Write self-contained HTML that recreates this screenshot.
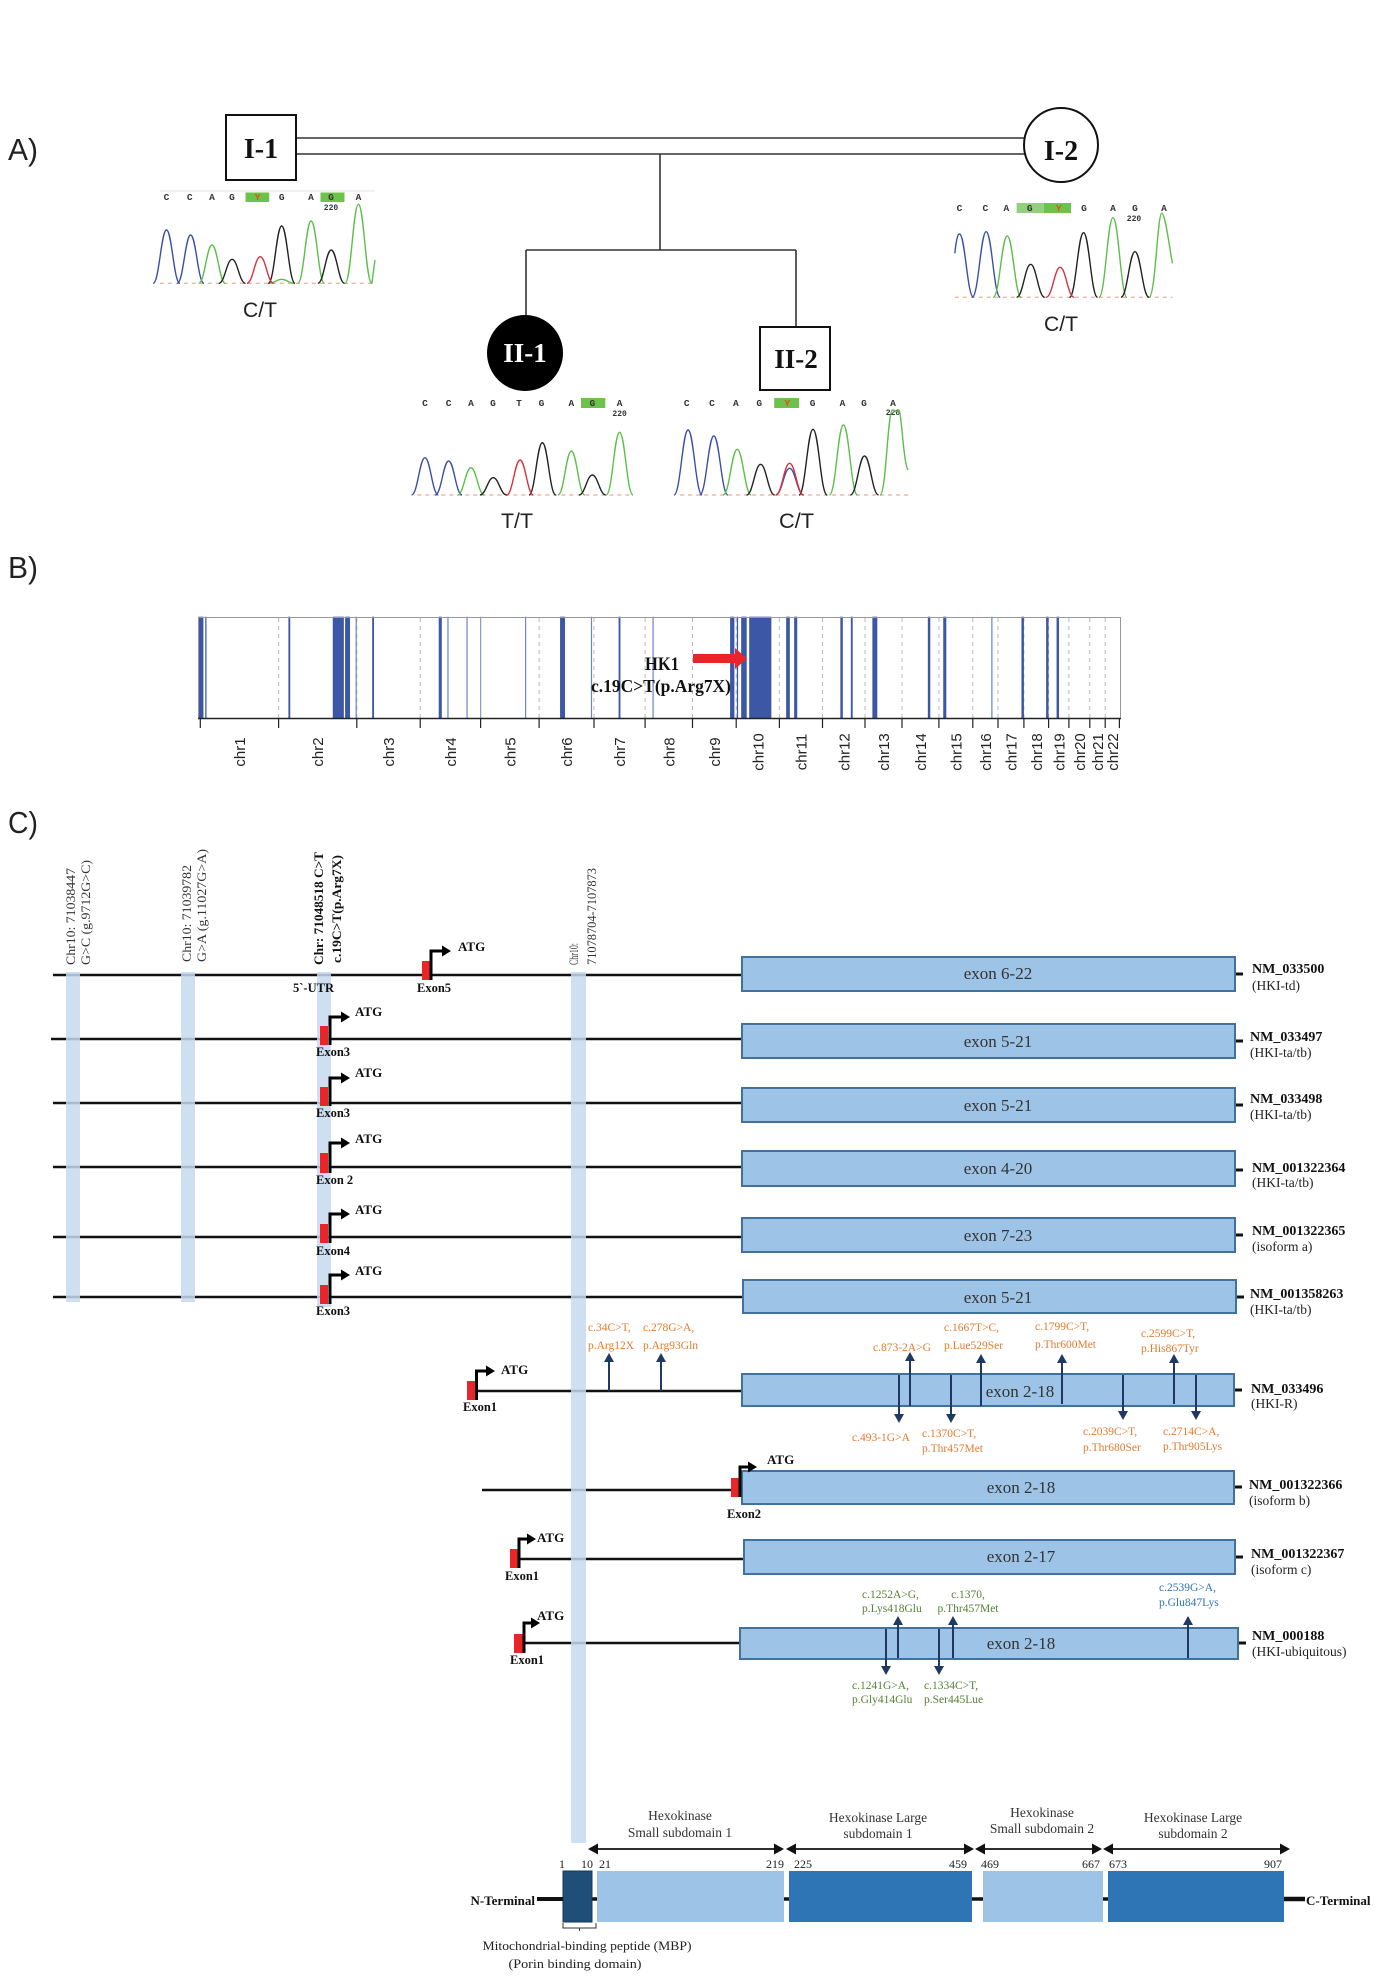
<!DOCTYPE html>
<html><head><meta charset="utf-8"><style>
html,body{margin:0;padding:0;background:#fff;}
svg{display:block;}
.s{font-family:"Liberation Serif","Times New Roman",serif;}
.a{font-family:"Liberation Sans",Arial,sans-serif;}
.m{font-family:"Liberation Mono","Courier New",monospace;font-weight:bold;}
</style></head><body>
<svg width="1394" height="1978" viewBox="0 0 1394 1978" xmlns="http://www.w3.org/2000/svg">
<rect width="1394" height="1978" fill="#fff"/>

<!-- ============ A) PEDIGREE ============ -->
<text class="a" x="8" y="160" font-size="31" fill="#222" textLength="30" lengthAdjust="spacingAndGlyphs">A)</text>

<g stroke="#333" stroke-width="1.6" fill="none">
  <line x1="296" y1="138" x2="1026" y2="138"/>
  <line x1="296" y1="154" x2="1026" y2="154"/>
  <line x1="660" y1="154" x2="660" y2="250"/>
  <line x1="526" y1="250" x2="796" y2="250"/>
  <line x1="526" y1="250" x2="526" y2="316"/>
  <line x1="796" y1="250" x2="796" y2="327"/>
</g>
<rect x="226" y="115" width="70" height="65" fill="#fff" stroke="#111" stroke-width="2"/>
<text class="s" x="261" y="158" font-size="28" font-weight="bold" text-anchor="middle" fill="#111">I-1</text>
<circle cx="1061" cy="145" r="37" fill="#fff" stroke="#111" stroke-width="2"/>
<text class="s" x="1061" y="160" font-size="28" font-weight="bold" text-anchor="middle" fill="#111">I-2</text>
<circle cx="525" cy="353" r="38" fill="#000"/>
<text class="s" x="525" y="362" font-size="27" font-weight="bold" text-anchor="middle" fill="#fff">II-1</text>
<rect x="760" y="327" width="70" height="63" fill="#fff" stroke="#111" stroke-width="2"/>
<text class="s" x="796" y="368" font-size="27" font-weight="bold" text-anchor="middle" fill="#111">II-2</text>

<!-- chromatogram letters -->
<g class="m" font-size="9.5" fill="#333" text-anchor="middle">
  <line x1="160" y1="191" x2="375" y2="191" stroke="#e4e4e4" stroke-width="1"/>
  <rect x="245.5" y="192.5" width="23.7" height="9.5" fill="#6cc24a" stroke="none"/>
  <rect x="320.5" y="192.5" width="24" height="9.5" fill="#6cc24a" stroke="none"/>
  <text x="166.5" y="200">C</text><text x="189.7" y="200">C</text><text x="212" y="200">A</text><text x="232" y="200">G</text><text x="257.6" y="200" fill="#e0501a">Y</text><text x="281.7" y="200">G</text><text x="311" y="200">A</text><text x="331" y="200">G</text><text x="358.5" y="200">A</text>
  <text x="331" y="210" font-size="8">220</text>

  <rect x="581" y="398" width="24.3" height="10" fill="#6cc24a" stroke="none"/>
  <text x="425" y="406">C</text><text x="448.6" y="406">C</text><text x="471" y="406">A</text><text x="493" y="406">G</text><text x="519" y="406">T</text><text x="541.5" y="406">G</text><text x="571.4" y="406">A</text><text x="592.4" y="406">G</text><text x="619.6" y="406">A</text>
  <text x="619.6" y="416" font-size="8">220</text>

  <rect x="774.2" y="398" width="24.8" height="10" fill="#6cc24a" stroke="none"/>
  <text x="686.7" y="406">C</text><text x="712" y="406">C</text><text x="735.8" y="406">A</text><text x="759.2" y="406">G</text><text x="787.3" y="406" fill="#e0501a">Y</text><text x="812.6" y="406">G</text><text x="842.5" y="406">A</text><text x="864" y="406">G</text><text x="893" y="406">A</text>
  <text x="893" y="415" font-size="8">220</text>

  <rect x="1016.6" y="203" width="27.2" height="10" fill="#93d07e" stroke="none"/>
  <rect x="1043.8" y="203" width="27.2" height="10" fill="#6cc24a" stroke="none"/>
  <text x="959.5" y="211">C</text><text x="985.3" y="211">C</text><text x="1006.3" y="211">A</text><text x="1029.7" y="211">G</text><text x="1058.7" y="211" fill="#e0501a">Y</text><text x="1084" y="211">G</text><text x="1113" y="211">A</text><text x="1135" y="211">G</text><text x="1164" y="211">A</text>
  <text x="1134" y="221" font-size="8">220</text>
</g>

<!-- traces I-1 and II-1 (zoom1 coords) -->
<g transform="translate(0,80) scale(0.4464,0.33333)" fill="none" stroke-width="1.4">
  <line x1="358" y1="610" x2="840" y2="610" stroke="#e89a80" vector-effect="non-scaling-stroke" stroke-dasharray="4 4" opacity="0.7"/>
  <path vector-effect="non-scaling-stroke" stroke="#3b4fa8" d="M343,610 C356.5,610 361,450 373,450 C385,450 389.5,610 403,610 M397,610 C410.5,610 415,465 427,465 C439,465 443.5,610 457,610"/>
  <path vector-effect="non-scaling-stroke" stroke="#5cbf4a" d="M445,610 C458.5,610 463,495 475,495 C487,495 491.5,610 505,610 M667,610 C680.5,610 685,423 697,423 C709,423 713.5,610 727,610 M773,610 C786.5,610 791,373 803,373 C815,373 819.5,610 833,610 L840,540 M600,610 C615,610 620,598 631,598 C642,598 648,610 660,610"/>
  <path vector-effect="non-scaling-stroke" stroke="#222" d="M490,610 C503.5,610 508,538 520,538 C532,538 536.5,610 550,610 M601,610 C614.5,610 619,438 631,438 C643,438 647.5,610 661,610 M712,610 C725.5,610 730,510 742,510 C754,510 758.5,610 772,610"/>
  <path vector-effect="non-scaling-stroke" stroke="#d8323c" d="M553,610 C566.5,610 571,530 583,530 C595,530 599.5,610 613,610"/>

  <line x1="935" y1="1245" x2="1415" y2="1245" stroke="#e89a80" vector-effect="non-scaling-stroke" stroke-dasharray="4 4" opacity="0.7"/>
  <path vector-effect="non-scaling-stroke" stroke="#3b4fa8" d="M922,1245 C935.5,1245 940,1133 952,1133 C964,1133 968.5,1245 982,1245 M975,1245 C988.5,1245 993,1143 1005,1143 C1017,1143 1021.5,1245 1035,1245"/>
  <path vector-effect="non-scaling-stroke" stroke="#5cbf4a" d="M1025,1245 C1038.5,1245 1043,1163 1055,1163 C1067,1163 1071.5,1245 1085,1245 M1250,1245 C1263.5,1245 1268,1113 1280,1113 C1292,1113 1296.5,1245 1310,1245 M1358,1245 C1371.5,1245 1376,1057 1388,1057 C1400,1057 1404.5,1245 1418,1245"/>
  <path vector-effect="non-scaling-stroke" stroke="#222" d="M1075,1245 C1088.5,1245 1093,1193 1105,1193 C1117,1193 1121.5,1245 1135,1245 M1185,1245 C1198.5,1245 1203,1088 1215,1088 C1227,1088 1231.5,1245 1245,1245 M1297,1245 C1310.5,1245 1315,1185 1327,1185 C1339,1185 1343.5,1245 1357,1245"/>
  <path vector-effect="non-scaling-stroke" stroke="#d8323c" d="M1135,1245 C1148.5,1245 1153,1140 1165,1140 C1177,1140 1181.5,1245 1195,1245"/>
</g>

<!-- traces II-2 and I-2 (zoom2 coords) -->
<g transform="translate(660,80) scale(0.468,0.33333)" fill="none" stroke-width="1.4">
  <line x1="43" y1="1245" x2="530" y2="1245" stroke="#e89a80" vector-effect="non-scaling-stroke" stroke-dasharray="4 4" opacity="0.7"/>
  <path vector-effect="non-scaling-stroke" stroke="#3b4fa8" d="M30,1245 C43.5,1245 48,1050 60,1050 C72,1050 76.5,1245 90,1245 M85,1245 C98.5,1245 103,1068 115,1068 C127,1068 131.5,1245 145,1245 M247,1245 C260.5,1245 265,1165 277,1165 C289,1165 293.5,1245 307,1245"/>
  <path vector-effect="non-scaling-stroke" stroke="#5cbf4a" d="M135,1245 C148.5,1245 153,1108 165,1108 C177,1108 181.5,1245 195,1245 M362,1245 C375.5,1245 380,1035 392,1035 C404,1035 408.5,1245 422,1245 M470,1245 C483.5,1245 486,990 497,990 C503,990 506,1000 510,990 C516,990 520,1150 530,1170"/>
  <path vector-effect="non-scaling-stroke" stroke="#222" d="M185,1245 C198.5,1245 203,1153 215,1153 C227,1153 231.5,1245 245,1245 M297,1245 C310.5,1245 315,1048 327,1048 C339,1048 343.5,1245 357,1245 M407,1245 C420.5,1245 425,1128 437,1128 C449,1128 453.5,1245 467,1245"/>
  <path vector-effect="non-scaling-stroke" stroke="#d8323c" d="M247,1245 C260.5,1245 265,1150 277,1150 C289,1150 293.5,1245 307,1245"/>

  <line x1="630" y1="652" x2="1095" y2="652" stroke="#e89a80" vector-effect="non-scaling-stroke" stroke-dasharray="4 4" opacity="0.7"/>
  <path vector-effect="non-scaling-stroke" stroke="#3b4fa8" d="M630,520 C633,480 636,462 640,462 C652,462 656.5,652 670,652 M667,652 C680.5,652 685,455 697,455 C709,455 713.5,652 727,652"/>
  <path vector-effect="non-scaling-stroke" stroke="#5cbf4a" d="M712,652 C725.5,652 730,468 742,468 C754,468 758.5,652 772,652 M938,652 C951.5,652 956,413 968,413 C980,413 984.5,652 998,652 M1045,652 C1058.5,652 1063,400 1072,400 C1080,400 1088,500 1095,550"/>
  <path vector-effect="non-scaling-stroke" stroke="#222" d="M762,652 C775.5,652 780,553 792,553 C804,553 808.5,652 822,652 M875,652 C888.5,652 893,458 905,458 C917,458 921.5,652 935,652 M985,652 C998.5,652 1003,515 1015,515 C1027,515 1031.5,652 1045,652"/>
  <path vector-effect="non-scaling-stroke" stroke="#d8323c" d="M825,652 C838.5,652 843,562 855,562 C867,562 871.5,652 885,652"/>
</g>

<g class="a" font-size="21" fill="#222">
  <text x="243" y="317" textLength="34" lengthAdjust="spacingAndGlyphs">C/T</text>
  <text x="501" y="528" textLength="32" lengthAdjust="spacingAndGlyphs">T/T</text>
  <text x="779" y="528" textLength="35" lengthAdjust="spacingAndGlyphs">C/T</text>
  <text x="1044" y="331" textLength="34" lengthAdjust="spacingAndGlyphs">C/T</text>
</g>

<!-- ============ B) ============ -->
<text class="a" x="8" y="578" font-size="31" fill="#222" textLength="30" lengthAdjust="spacingAndGlyphs">B)</text>
<g stroke="#b8b8b8" stroke-width="1" stroke-dasharray="4 4">
  <line x1="278.6" y1="618" x2="278.6" y2="718"/><line x1="356.8" y1="618" x2="356.8" y2="718"/>
  <line x1="420.2" y1="618" x2="420.2" y2="718"/><line x1="480.6" y1="618" x2="480.6" y2="718"/>
  <line x1="539.1" y1="618" x2="539.1" y2="718"/><line x1="594" y1="618" x2="594" y2="718"/>
  <line x1="645.1" y1="618" x2="645.1" y2="718"/><line x1="692.5" y1="618" x2="692.5" y2="718"/>
  <line x1="736.2" y1="618" x2="736.2" y2="718"/><line x1="779.4" y1="618" x2="779.4" y2="718"/>
  <line x1="822.5" y1="618" x2="822.5" y2="718"/><line x1="865" y1="618" x2="865" y2="718"/>
  <line x1="902" y1="618" x2="902" y2="718"/><line x1="938.9" y1="618" x2="938.9" y2="718"/>
  <line x1="972.8" y1="618" x2="972.8" y2="718"/><line x1="998" y1="618" x2="998" y2="718"/>
  <line x1="1023.9" y1="618" x2="1023.9" y2="718"/><line x1="1048.6" y1="618" x2="1048.6" y2="718"/>
  <line x1="1068.9" y1="618" x2="1068.9" y2="718"/><line x1="1089.8" y1="618" x2="1089.8" y2="718"/>
  <line x1="1105.2" y1="618" x2="1105.2" y2="718"/>
</g>
<g transform="translate(180,600) scale(0.616,0.33333)" fill="#3b57a6">
  <rect x="30" y="50" width="8" height="305"/><rect x="41" y="50" width="2" height="305"/>
  <rect x="176" y="50" width="3" height="305"/><rect x="248" y="50" width="18" height="305"/>
  <rect x="268" y="50" width="8" height="305"/><rect x="285" y="50" width="2" height="305" fill="#6f86c4"/>
  <rect x="312" y="50" width="3" height="305"/><rect x="420" y="50" width="5" height="305"/>
  <rect x="434" y="50" width="2" height="305" fill="#6f86c4"/><rect x="465" y="50" width="2" height="305" fill="#6f86c4"/>
  <rect x="487" y="50" width="2" height="305" fill="#8b9ccf"/><rect x="560" y="50" width="2" height="305" fill="#6f86c4"/>
  <rect x="617" y="50" width="8" height="305"/><rect x="667" y="50" width="2" height="305" fill="#6f86c4"/>
  <rect x="712" y="50" width="3" height="305"/><rect x="767" y="50" width="2" height="305" fill="#6f86c4"/>
  <rect x="893" y="50" width="7" height="305"/><rect x="904" y="50" width="2" height="305"/>
  <rect x="911" y="50" width="9" height="305"/><rect x="924" y="50" width="36" height="305"/>
  <rect x="984" y="50" width="6" height="305"/><rect x="997" y="50" width="5" height="305"/>
  <rect x="1072" y="50" width="4" height="305"/><rect x="1089" y="50" width="3" height="305"/>
  <rect x="1124" y="50" width="8" height="305"/><rect x="1214" y="50" width="4" height="305"/>
  <rect x="1239" y="50" width="5" height="305"/><rect x="1317" y="50" width="2" height="305" fill="#6f86c4"/>
  <rect x="1366" y="50" width="4" height="305"/><rect x="1406" y="50" width="4" height="305"/>
  <rect x="1423" y="50" width="4" height="305"/>
</g>
<rect x="198.5" y="617.5" width="922" height="101" fill="none" stroke="#999" stroke-width="1"/>
<line x1="198" y1="718.5" x2="1121" y2="718.5" stroke="#222" stroke-width="1.6"/>
<g stroke="#222" stroke-width="1.2">
  <line x1="200.3" y1="718" x2="200.3" y2="728"/><line x1="278.6" y1="718" x2="278.6" y2="728"/>
  <line x1="356.8" y1="718" x2="356.8" y2="728"/><line x1="420.2" y1="718" x2="420.2" y2="728"/>
  <line x1="480.6" y1="718" x2="480.6" y2="728"/><line x1="539.1" y1="718" x2="539.1" y2="728"/>
  <line x1="594" y1="718" x2="594" y2="728"/><line x1="645.1" y1="718" x2="645.1" y2="728"/>
  <line x1="692.5" y1="718" x2="692.5" y2="728"/><line x1="736.2" y1="718" x2="736.2" y2="728"/>
  <line x1="779.4" y1="718" x2="779.4" y2="728"/><line x1="822.5" y1="718" x2="822.5" y2="728"/>
  <line x1="865" y1="718" x2="865" y2="728"/><line x1="902" y1="718" x2="902" y2="728"/>
  <line x1="938.9" y1="718" x2="938.9" y2="728"/><line x1="972.8" y1="718" x2="972.8" y2="728"/>
  <line x1="998" y1="718" x2="998" y2="728"/><line x1="1023.9" y1="718" x2="1023.9" y2="728"/>
  <line x1="1048.6" y1="718" x2="1048.6" y2="728"/><line x1="1068.9" y1="718" x2="1068.9" y2="728"/>
  <line x1="1089.8" y1="718" x2="1089.8" y2="728"/><line x1="1105.2" y1="718" x2="1105.2" y2="728"/>
  <line x1="1119.4" y1="718" x2="1119.4" y2="728"/>
</g>
<g class="a" font-size="15" fill="#222" text-anchor="middle">
  <text transform="translate(245,752) rotate(-90)">chr1</text>
  <text transform="translate(323.2,752) rotate(-90)">chr2</text>
  <text transform="translate(394,752) rotate(-90)">chr3</text>
  <text transform="translate(455.9,752) rotate(-90)">chr4</text>
  <text transform="translate(515.4,752) rotate(-90)">chr5</text>
  <text transform="translate(572.1,752) rotate(-90)">chr6</text>
  <text transform="translate(625.1,752) rotate(-90)">chr7</text>
  <text transform="translate(674.3,752) rotate(-90)">chr8</text>
  <text transform="translate(719.9,752) rotate(-90)">chr9</text>
  <text transform="translate(763.3,752) rotate(-90)">chr10</text>
  <text transform="translate(806.5,752) rotate(-90)">chr11</text>
  <text transform="translate(849.3,752) rotate(-90)">chr12</text>
  <text transform="translate(889,752) rotate(-90)">chr13</text>
  <text transform="translate(926,752) rotate(-90)">chr14</text>
  <text transform="translate(961.4,752) rotate(-90)">chr15</text>
  <text transform="translate(990.9,752) rotate(-90)">chr16</text>
  <text transform="translate(1016.5,752) rotate(-90)">chr17</text>
  <text transform="translate(1041.8,752) rotate(-90)">chr18</text>
  <text transform="translate(1064.3,752) rotate(-90)">chr19</text>
  <text transform="translate(1084.9,752) rotate(-90)">chr20</text>
  <text transform="translate(1103,752) rotate(-90)">chr21</text>
  <text transform="translate(1117.8,752) rotate(-90)">chr22</text>
</g>
<text class="s" x="645" y="670" font-size="19" font-weight="bold" fill="#111" textLength="34" lengthAdjust="spacingAndGlyphs">HK1</text>
<text class="s" x="591" y="692" font-size="18" font-weight="bold" fill="#111" textLength="140" lengthAdjust="spacingAndGlyphs">c.19C&gt;T(p.Arg7X)</text>
<polygon points="693,654 735,654 735,648 747,658.5 735,669 735,663 693,663" fill="#e8262a"/>

<!-- ============ C) ============ -->
<text class="a" x="8" y="833" font-size="31" fill="#222" textLength="30" lengthAdjust="spacingAndGlyphs">C)</text>

<!-- rotated labels -->
<g class="s" font-size="13" fill="#333">
  <text transform="translate(75,965) rotate(-90)" textLength="97" lengthAdjust="spacingAndGlyphs">Chr10: 71038447</text>
  <text transform="translate(90,965) rotate(-90)" textLength="105" lengthAdjust="spacingAndGlyphs">G&gt;C (g.9712G&gt;C)</text>
  <text transform="translate(191,962) rotate(-90)" textLength="97" lengthAdjust="spacingAndGlyphs">Chr10: 71039782</text>
  <text transform="translate(206,962) rotate(-90)" textLength="113" lengthAdjust="spacingAndGlyphs">G&gt;A (g.11027G&gt;A)</text>
  <text transform="translate(323,965) rotate(-90)" font-weight="bold" fill="#111" textLength="113" lengthAdjust="spacingAndGlyphs">Chr: 71048518 C&gt;T</text>
  <text transform="translate(341,963) rotate(-90)" font-weight="bold" fill="#111" textLength="108" lengthAdjust="spacingAndGlyphs">c.19C&gt;T(p.Arg7X)</text>
  <text transform="translate(578,965) rotate(-90)" textLength="22" lengthAdjust="spacingAndGlyphs">Chr10:</text>
  <text transform="translate(596,965) rotate(-90)" textLength="97" lengthAdjust="spacingAndGlyphs">71078704-7107873</text>
</g>

<!-- transcript lines -->
<g stroke="#111" stroke-width="2.6">
  <line x1="53" y1="975" x2="742" y2="975"/>
  <line x1="51" y1="1039" x2="742" y2="1039"/>
  <line x1="53" y1="1103" x2="742" y2="1103"/>
  <line x1="53" y1="1167" x2="742" y2="1167"/>
  <line x1="53" y1="1237" x2="742" y2="1237"/>
  <line x1="53" y1="1297" x2="743" y2="1297"/>
  <line x1="476" y1="1391" x2="742" y2="1391"/>
  <line x1="482" y1="1490" x2="732" y2="1490"/>
  <line x1="518" y1="1559" x2="744" y2="1559"/>
  <line x1="523" y1="1643" x2="740" y2="1643"/>
</g>

<!-- light blue bands -->
<g fill="#c6d9f0" opacity="0.85">
  <rect x="66" y="972" width="14" height="330"/>
  <rect x="181" y="972" width="14" height="330"/>
  <rect x="317" y="972" width="14" height="335"/>
  <rect x="571" y="972" width="15" height="871"/>
</g>

<!-- exon boxes -->
<g fill="#9dc3e6" stroke="#41719c" stroke-width="2">
  <rect x="742" y="957" width="493" height="34"/>
  <rect x="742" y="1024" width="493" height="34"/>
  <rect x="742" y="1088" width="493" height="34"/>
  <rect x="742" y="1151" width="493" height="35"/>
  <rect x="742" y="1218" width="493" height="34"/>
  <rect x="743" y="1280" width="493" height="33"/>
  <rect x="742" y="1374" width="492" height="32"/>
  <rect x="742" y="1471" width="492" height="33"/>
  <rect x="744" y="1540" width="491" height="34"/>
  <rect x="740" y="1628" width="498" height="31"/>
</g>
<g stroke="#111" stroke-width="3">
  <line x1="1236" y1="974" x2="1243" y2="974"/>
  <line x1="1236" y1="1041" x2="1243" y2="1041"/>
  <line x1="1236" y1="1105" x2="1243" y2="1105"/>
  <line x1="1236" y1="1170" x2="1243" y2="1170"/>
  <line x1="1236" y1="1235" x2="1243" y2="1235"/>
  <line x1="1237" y1="1297" x2="1244" y2="1297"/>
  <line x1="1235" y1="1390" x2="1242" y2="1390"/>
  <line x1="1235" y1="1487" x2="1242" y2="1487"/>
  <line x1="1236" y1="1557" x2="1243" y2="1557"/>
  <line x1="1239" y1="1643" x2="1246" y2="1643"/>
</g>
<g class="s" font-size="17" fill="#333" text-anchor="middle">
  <text x="998" y="979">exon 6-22</text>
  <text x="998" y="1047">exon 5-21</text>
  <text x="998" y="1111">exon 5-21</text>
  <text x="998" y="1174">exon 4-20</text>
  <text x="998" y="1241">exon 7-23</text>
  <text x="998" y="1303">exon 5-21</text>
  <text x="1020" y="1397">exon 2-18</text>
  <text x="1021" y="1493">exon 2-18</text>
  <text x="1021" y="1562">exon 2-17</text>
  <text x="1021" y="1649">exon 2-18</text>
</g>

<!-- NM labels -->
<g class="s" font-size="14" fill="#111">
  <g font-weight="bold">
    <text x="1252" y="973">NM_033500</text>
    <text x="1250" y="1041">NM_033497</text>
    <text x="1250" y="1103">NM_033498</text>
    <text x="1252" y="1172">NM_001322364</text>
    <text x="1252" y="1235">NM_001322365</text>
    <text x="1250" y="1298">NM_001358263</text>
    <text x="1251" y="1393">NM_033496</text>
    <text x="1249" y="1489">NM_001322366</text>
    <text x="1251" y="1558">NM_001322367</text>
    <text x="1252" y="1640">NM_000188</text>
  </g>
  <g font-size="13.5" fill="#222">
    <text x="1252" y="990">(HKI-td)</text>
    <text x="1250" y="1057">(HKI-ta/tb)</text>
    <text x="1250" y="1119">(HKI-ta/tb)</text>
    <text x="1252" y="1187">(HKI-ta/tb)</text>
    <text x="1252" y="1251">(isoform a)</text>
    <text x="1250" y="1314">(HKI-ta/tb)</text>
    <text x="1251" y="1408">(HKI-R)</text>
    <text x="1249" y="1505">(isoform b)</text>
    <text x="1251" y="1574">(isoform c)</text>
    <text x="1252" y="1656">(HKI-ubiquitous)</text>
  </g>
</g>

<!-- red exon blocks -->
<g fill="#e8262a">
  <rect x="422" y="961" width="8" height="19"/>
  <rect x="320" y="1026" width="8" height="19"/>
  <rect x="320" y="1087" width="8" height="19"/>
  <rect x="320" y="1153" width="8" height="20"/>
  <rect x="320" y="1224" width="8" height="19"/>
  <rect x="320" y="1285" width="8" height="19"/>
  <rect x="467" y="1381" width="8" height="19"/>
  <rect x="731" y="1478" width="8" height="19"/>
  <rect x="510" y="1549" width="8" height="19"/>
  <rect x="514" y="1634" width="9" height="19"/>
</g>
<!-- ATG arrows -->
<g stroke="#000" stroke-width="3" fill="none">
  <path d="M431,980 V951 H443"/>
  <path d="M330,1045 V1017 H342"/>
  <path d="M330,1106 V1078 H342"/>
  <path d="M330,1173 V1143 H342"/>
  <path d="M330,1243 V1214 H342"/>
  <path d="M330,1304 V1275 H342"/>
  <path d="M476.5,1400 V1371 H487"/>
  <path d="M740,1497 V1467 H749"/>
  <path d="M519,1568 V1539 H528"/>
  <path d="M524,1653 V1623 H532"/>
</g>
<g fill="#000">
  <polygon points="442,945.5 451,951 442,956.5"/>
  <polygon points="341,1011.5 350,1017 341,1022.5"/>
  <polygon points="341,1072.5 350,1078 341,1083.5"/>
  <polygon points="341,1137.5 350,1143 341,1148.5"/>
  <polygon points="341,1208.5 350,1214 341,1219.5"/>
  <polygon points="341,1269.5 350,1275 341,1280.5"/>
  <polygon points="486,1365.5 495,1371 486,1376.5"/>
  <polygon points="748,1461.5 757,1467 748,1472.5"/>
  <polygon points="527,1533.5 536,1539 527,1544.5"/>
  <polygon points="531,1617.5 540,1623 531,1628.5"/>
</g>
<g class="s" font-size="13" font-weight="bold" fill="#111">
  <text x="458" y="951">ATG</text>
  <text x="355" y="1016">ATG</text>
  <text x="355" y="1077">ATG</text>
  <text x="355" y="1143">ATG</text>
  <text x="355" y="1214">ATG</text>
  <text x="355" y="1275">ATG</text>
  <text x="501" y="1374">ATG</text>
  <text x="767" y="1464">ATG</text>
  <text x="537" y="1542">ATG</text>
  <text x="537" y="1620">ATG</text>
  <text x="417" y="992" font-size="12.5">Exon5</text>
  <text x="293" y="992" font-size="12.5">5`-UTR</text>
  <text x="316" y="1056" font-size="12.5">Exon3</text>
  <text x="316" y="1117" font-size="12.5">Exon3</text>
  <text x="316" y="1184" font-size="12.5">Exon 2</text>
  <text x="316" y="1255" font-size="12.5">Exon4</text>
  <text x="316" y="1315" font-size="12.5">Exon3</text>
  <text x="463" y="1411" font-size="12.5">Exon1</text>
  <text x="727" y="1518" font-size="12.5">Exon2</text>
  <text x="505" y="1580" font-size="12.5">Exon1</text>
  <text x="510" y="1664" font-size="12.5">Exon1</text>
</g>

<!-- mutation arrows -->
<g stroke="#1f3864" stroke-width="2">
  <line x1="609" y1="1391" x2="609" y2="1360"/>
  <line x1="661" y1="1391" x2="661" y2="1360"/>
  <line x1="910" y1="1406" x2="910" y2="1360"/>
  <line x1="981" y1="1406" x2="981" y2="1362"/>
  <line x1="1062" y1="1404" x2="1062" y2="1362"/>
  <line x1="1174" y1="1404" x2="1174" y2="1362"/>
  <line x1="899" y1="1375" x2="899" y2="1416"/>
  <line x1="951" y1="1375" x2="951" y2="1416"/>
  <line x1="1123" y1="1375" x2="1123" y2="1413"/>
  <line x1="1196" y1="1375" x2="1196" y2="1413"/>
  <line x1="898" y1="1658" x2="898" y2="1623"/>
  <line x1="953" y1="1658" x2="953" y2="1623"/>
  <line x1="1188" y1="1658" x2="1188" y2="1623"/>
  <line x1="886" y1="1629" x2="886" y2="1668"/>
  <line x1="939" y1="1629" x2="939" y2="1668"/>
</g>
<g fill="#1f3864">
  <polygon points="609,1353 604,1362 614,1362"/>
  <polygon points="661,1353 656,1362 666,1362"/>
  <polygon points="910,1352 905,1361 915,1361"/>
  <polygon points="981,1354 976,1363 986,1363"/>
  <polygon points="1062,1354 1057,1363 1067,1363"/>
  <polygon points="1174,1354 1169,1363 1179,1363"/>
  <polygon points="899,1423 894,1414 904,1414"/>
  <polygon points="951,1423 946,1414 956,1414"/>
  <polygon points="1123,1420 1118,1411 1128,1411"/>
  <polygon points="1196,1420 1191,1411 1201,1411"/>
  <polygon points="898,1616 893,1625 903,1625"/>
  <polygon points="953,1616 948,1625 958,1625"/>
  <polygon points="1188,1616 1183,1625 1193,1625"/>
  <polygon points="886,1675 881,1666 891,1666"/>
  <polygon points="939,1675 934,1666 944,1666"/>
</g>

<!-- orange mutation labels -->
<g class="s" font-size="11.5" fill="#e47a2e">
  <text x="588" y="1331">c.34C&gt;T,</text><text x="588" y="1349">p.Arg12X</text>
  <text x="643" y="1331">c.278G&gt;A,</text><text x="643" y="1349">p.Arg93Gln</text>
  <text x="873" y="1351">c.873-2A&gt;G</text>
  <text x="944" y="1331">c.1667T&gt;C,</text><text x="944" y="1349">p.Lue529Ser</text>
  <text x="1035" y="1330">c.1799C&gt;T,</text><text x="1035" y="1348">p.Thr600Met</text>
  <text x="1141" y="1337">c.2599C&gt;T,</text><text x="1141" y="1352">p.His867Tyr</text>
  <text x="852" y="1441">c.493-1G&gt;A</text>
  <text x="922" y="1437">c.1370C&gt;T,</text><text x="922" y="1452">p.Thr457Met</text>
  <text x="1083" y="1435">c.2039C&gt;T,</text><text x="1083" y="1451">p.Thr680Ser</text>
  <text x="1163" y="1435">c.2714C&gt;A,</text><text x="1163" y="1450">p.Thr905Lys</text>
</g>
<g class="s" font-size="11.5" fill="#548235">
  <text x="862" y="1598">c.1252A&gt;G,</text><text x="862" y="1612">p.Lys418Glu</text>
  <text x="968" y="1598" text-anchor="middle">c.1370,</text><text x="968" y="1612" text-anchor="middle">p.Thr457Met</text>
  <text x="852" y="1689">c.1241G&gt;A,</text><text x="852" y="1703">p.Gly414Glu</text>
  <text x="924" y="1689">c.1334C&gt;T,</text><text x="924" y="1703">p.Ser445Lue</text>
</g>
<g class="s" font-size="11.5" fill="#2e75b6">
  <text x="1159" y="1591">c.2539G&gt;A,</text><text x="1159" y="1606">p.Glu847Lys</text>
</g>

<!-- ============ protein domains ============ -->
<g class="s" font-size="13.5" fill="#333" text-anchor="middle">
  <text x="680" y="1820">Hexokinase</text><text x="680" y="1837">Small subdomain 1</text>
  <text x="878" y="1822">Hexokinase Large</text><text x="878" y="1838">subdomain 1</text>
  <text x="1042" y="1817">Hexokinase</text><text x="1042" y="1833">Small subdomain 2</text>
  <text x="1193" y="1822">Hexokinase Large</text><text x="1193" y="1838">subdomain 2</text>
</g>
<g stroke="#111" stroke-width="1.8">
  <line x1="596" y1="1849" x2="776" y2="1849"/>
  <line x1="794" y1="1849" x2="966" y2="1849"/>
  <line x1="983" y1="1849" x2="1094" y2="1849"/>
  <line x1="1111" y1="1849" x2="1282" y2="1849"/>
</g>
<g fill="#111">
  <polygon points="588,1849 598,1843.5 598,1854.5"/><polygon points="784,1849 774,1843.5 774,1854.5"/>
  <polygon points="786,1849 796,1843.5 796,1854.5"/><polygon points="974,1849 964,1843.5 964,1854.5"/>
  <polygon points="975,1849 985,1843.5 985,1854.5"/><polygon points="1102,1849 1092,1843.5 1092,1854.5"/>
  <polygon points="1103,1849 1113,1843.5 1113,1854.5"/><polygon points="1290,1849 1280,1843.5 1280,1854.5"/>
</g>
<g class="s" font-size="12" fill="#222" text-anchor="middle">
  <text x="562" y="1868">1</text><text x="587" y="1868">10</text><text x="605" y="1868">21</text>
  <text x="775" y="1868">219</text><text x="803" y="1868">225</text><text x="958" y="1868">459</text>
  <text x="990" y="1868">469</text><text x="1091" y="1868">667</text><text x="1118" y="1868">673</text>
  <text x="1273" y="1868">907</text>
</g>
<line x1="537" y1="1899" x2="1304" y2="1899" stroke="#111" stroke-width="3.5"/>
<rect x="563" y="1871" width="29" height="51" fill="#1f4e79" stroke="#17375e" stroke-width="1"/>
<rect x="597" y="1871" width="187" height="51" fill="#9dc3e6"/>
<rect x="789" y="1871" width="183" height="51" fill="#2e75b6"/>
<rect x="983" y="1871" width="120" height="51" fill="#9dc3e6"/>
<rect x="1108" y="1871" width="176" height="51" fill="#2e75b6"/>
<line x1="537" y1="1899" x2="563" y2="1899" stroke="#111" stroke-width="4"/>
<line x1="1284" y1="1899" x2="1305" y2="1899" stroke="#111" stroke-width="4.5"/>
<g class="s" font-size="13" font-weight="bold" fill="#111">
  <text x="535" y="1905" text-anchor="end">N-Terminal</text>
  <text x="1306" y="1905">C-Terminal</text>
</g>
<path d="M563,1923 V1928 H596 V1923 M579.5,1928 V1931" fill="none" stroke="#333" stroke-width="1"/>
<g class="s" font-size="13" fill="#222" text-anchor="middle">
  <text x="587" y="1950" textLength="209" lengthAdjust="spacingAndGlyphs">Mitochondrial-binding peptide (MBP)</text>
  <text x="575" y="1968" textLength="133" lengthAdjust="spacingAndGlyphs">(Porin binding domain)</text>
</g>
</svg>
</body></html>
